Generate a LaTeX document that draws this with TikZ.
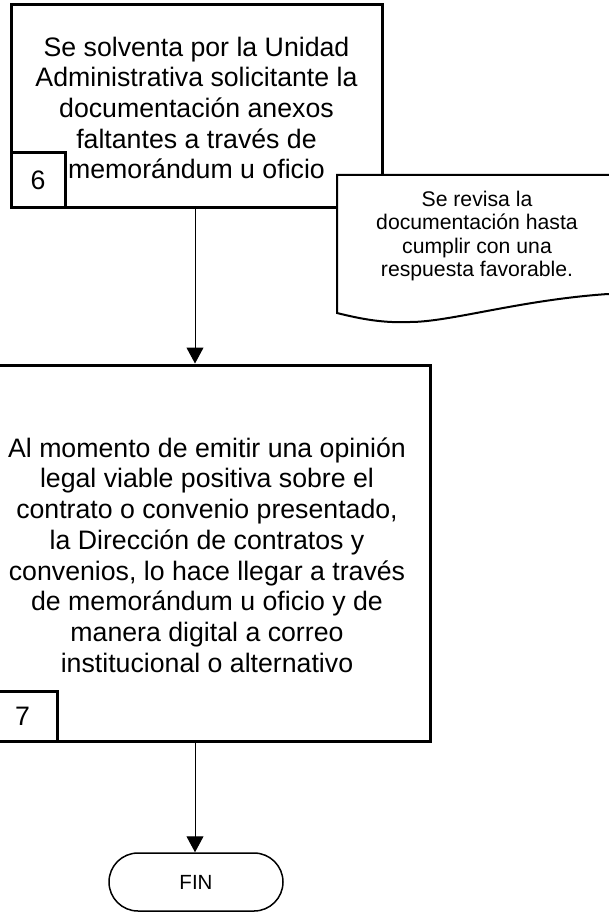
\documentclass[tikz,border=0pt]{standalone}
\usepackage{fontspec}
\setmainfont{Liberation Sans}
\usetikzlibrary{shapes.misc,arrows.meta}
\begin{document}
\begin{tikzpicture}[x=1pt,y=1pt,
  procbox/.style={draw,line width=3pt,align=center,inner sep=0pt,fill=white},
  bigtext/.style={font=\fontsize{26.7}{30.7}\selectfont},
  numbox/.style={draw,line width=3pt,inner sep=0pt,font=\fontsize{26.7}{30.7}\selectfont},
  notetext/.style={align=center,font=\fontsize{21.2}{23.3}\selectfont},
  arr/.style={line width=1pt,-{Triangle[width=17pt,length=16pt]}},
  endbox/.style={draw,rounded rectangle,line width=1.5pt,minimum width=174pt,minimum height=58pt,inner sep=0pt,font=\fontsize{20.5}{24}\selectfont}]
\useasboundingbox (0,0) rectangle (608,-912);
% box 6
\node[procbox,minimum width=371pt,minimum height=202pt] (b6) at (196.5,-106) {};
\node[bigtext,align=center] (t6) at (196.5,-108) {Se solventa por la Unidad\\Administrativa solicitante la\\documentación anexos\\faltantes a través de\\memorándum u oficio};
\node[numbox,minimum width=54pt,minimum height=54pt] (n6) at (38,-180) {6};
% note
\draw[line width=2pt,fill=white] (337,-175) -- (620,-175) -- (620,-294) -- (608,-294)
  .. controls (520,-300) and (450,-322) .. (410,-322)
  .. controls (385,-323) and (365,-320) .. (337,-313) -- cycle;
\node[notetext] (note) at (477,-236) {Se revisa la\\documentación hasta\\cumplir con una\\respuesta favorable.};
% box 7
\node[procbox,minimum width=444pt,minimum height=376pt] (b7) at (208,-553) {};
\node[bigtext,align=center] (t7) at (207,-555) {Al momento de emitir una opinión\\legal viable positiva sobre el\\contrato o convenio presentado,\\la Dirección de contratos y\\convenios, lo hace llegar a través\\de memorándum u oficio y de\\manera digital a correo\\institucional o alternativo};
\node[numbox,minimum width=71pt,minimum height=50pt] (n7) at (21.5,-716) {};
\node[bigtext] (l7) at (22.5,-716) {7};
% FIN
\node[endbox] (fin) at (196,-882) {FIN};
% arrows
\draw[arr] (195,-207) coordinate (a1) -- (a1 |- b7.north);
\draw[arr] (195,-741) coordinate (a2) -- (a2 |- fin.north);
\end{tikzpicture}
\end{document}
